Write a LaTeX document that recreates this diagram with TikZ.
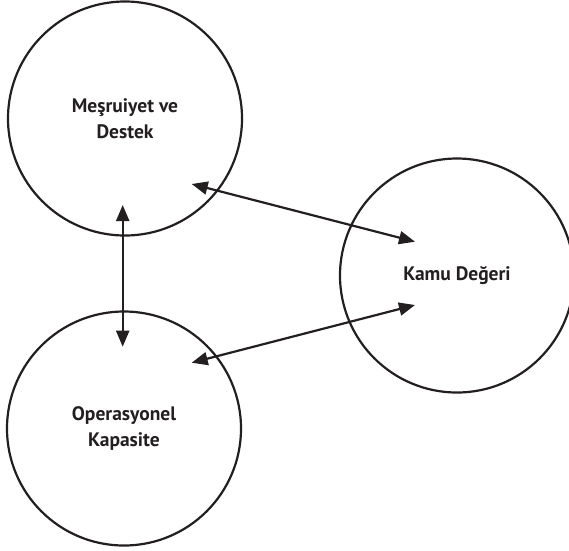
\documentclass[tikz,border=0pt]{standalone}
\usepackage{fontspec}
\setsansfont{PT Sans}
\usetikzlibrary{arrows.meta,calc}
\definecolor{ink}{HTML}{231F20}

\begin{document}
\begin{tikzpicture}[x=1pt, y=-1pt, >={Triangle[length=16pt,width=13pt]},
  every node/.style={font=\sffamily\bfseries\fontsize{19.5}{26}\selectfont,
    align=center, text=ink},
  ring/.style={draw=ink, circle, line width=2.2pt, minimum size=234pt, inner sep=0pt},
  link/.style={<->, draw=ink, line width=2.2pt}]
  \clip (0,0) rectangle (569,550);
  \node[ring] (leg) at (125,118.5) {Meşruiyet ve\\Destek};
  \node[ring] (ops) at (124,428.5) {Operasyonel\\Kapasite};
  \node[ring] (val) at (457,275.5) {Kamu Değeri};
  % arrow ends sit inside the circles
  \coordinate (legS) at ($(leg)+(-2.3,86.5)$);
  \coordinate (opsN) at ($(ops)+(-1.3,-81.8)$);
  \coordinate (legE) at ($(leg)+(66.7,65.5)$);
  \coordinate (opsE) at ($(ops)+(67.7,-65.8)$);
  \coordinate (valA) at ($(val)+(-42,-33.8)$);
  \coordinate (valB) at ($(val)+(-42,29.5)$);
  \draw[link] (legS) -- (opsN);
  \draw[link] (legE) -- (valA);
  \draw[link] (valB) -- (opsE);
\end{tikzpicture}
\end{document}
